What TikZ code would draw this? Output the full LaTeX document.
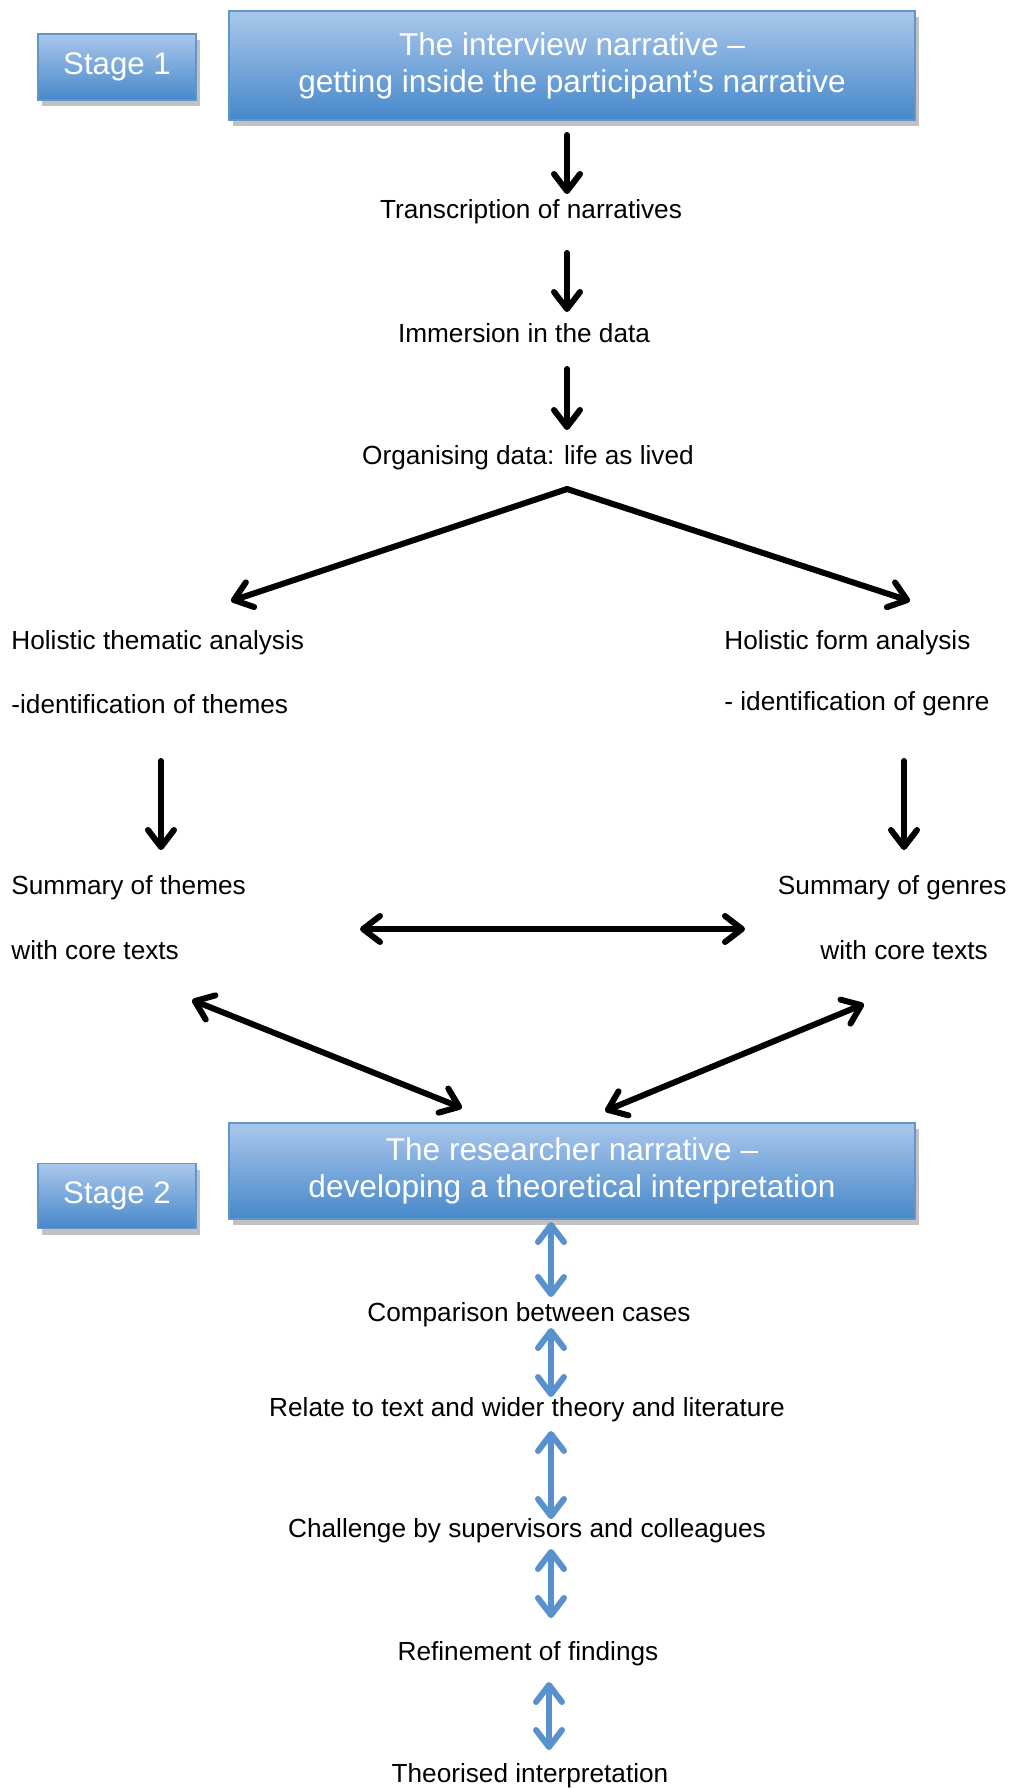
\documentclass[tikz,border=0pt]{standalone}
\usepackage{fontspec}
\setmainfont{Liberation Sans}
\usetikzlibrary{arrows.meta,shadows}

\definecolor{boxtop}{RGB}{170,199,235}
\definecolor{boxbot}{RGB}{70,136,202}
\definecolor{boxline}{RGB}{98,148,206}
\definecolor{linkblue}{RGB}{88,145,205}

\begin{document}
\begin{tikzpicture}[x=0.5pt,y=-0.5pt,
  stagebox/.style={draw=boxline, line width=0.7pt, top color=boxtop, bottom color=boxbot,
    text=white, inner sep=0pt, align=center,
    drop shadow={shadow xshift=2pt, shadow yshift=-3pt, opacity=0.35, fill=black!70}},
  titlefont/.style={font=\fontsize{15.8}{18.5}\selectfont},
  stagefont/.style={font=\fontsize{15.6}{18}\selectfont},
  step text/.style={font=\fontsize{13.1}{15}\selectfont, inner sep=0pt, anchor=mid},
  barb/.style={Straight Barb[length=8.5pt,width=13pt,round]},
  blackarrow/.style={line width=3pt, black, line cap=round, -{Straight Barb[length=8.5pt,width=13pt,round]}},
  blackboth/.style={line width=3pt, black, line cap=round,
    {Straight Barb[length=8.5pt,width=13pt,round]}-{Straight Barb[length=8.5pt,width=13pt,round]}},
  blueboth/.style={line width=3pt, linkblue, line cap=round,
    {Straight Barb[length=8.5pt,width=13pt,round]}-{Straight Barb[length=8.5pt,width=13pt,round]}}
]
\useasboundingbox (0,0) rectangle (1009,1789);

% ---------- Stage 1 ----------
\node[stagebox, stagefont, minimum width=79pt, minimum height=33pt] (stage1) at (117,67) {Stage 1};
\node[stagebox, titlefont, minimum width=343pt, minimum height=54.5pt] (title1) at (572,65.5)
  {The interview narrative –\\getting inside the participant’s narrative};

\node[step text] (trans) at (531,213) {Transcription of narratives};
\node[step text] (immer) at (524,337) {Immersion in the data};
\node[step text] (organ) at (528,459) {Organising data: life as lived};

\node[step text, anchor=west] (themA) at (11,643) {Holistic thematic analysis};
\node[step text, anchor=west] (themB) at (11,704) {-identification of themes};
\node[step text, anchor=west] (formA) at (724,643) {Holistic form analysis};
\node[step text, anchor=west] (formB) at (724,704) {- identification of genre};

\node[step text, anchor=west] (sumthA) at (11,888) {Summary of themes};
\node[step text, anchor=west] (sumthB) at (11,950) {with core texts};
\node[step text, anchor=east] (sumgeA) at (1007,888) {Summary of genres};
\node[step text, anchor=west] (sumgeB) at (820,950) {with core texts};

% arrow end points
\coordinate (a1s) at (567,135);  \coordinate (a1e) at (567,194);
\coordinate (a2s) at (567,253);  \coordinate (a2e) at (567,312);
\coordinate (a3s) at (567,369);  \coordinate (a3e) at (567,430);
\coordinate (fork) at (567,489);
\coordinate (forkL) at (231,601); \coordinate (forkR) at (910,601);
\coordinate (dLs) at (161,761);  \coordinate (dLe) at (161,850);
\coordinate (dRs) at (904,761);  \coordinate (dRe) at (904,850);
\coordinate (hL) at (360,929);   \coordinate (hR) at (745,929);
\coordinate (gL1) at (192,1000); \coordinate (gL2) at (462,1108);
\coordinate (gR1) at (864,1004); \coordinate (gR2) at (605,1111);

\draw[blackarrow] (a1s) -- (a1e);
\draw[blackarrow] (a2s) -- (a2e);
\draw[blackarrow] (a3s) -- (a3e);
\draw[blackarrow] (fork) -- (forkL);
\draw[blackarrow] (fork) -- (forkR);
\draw[blackarrow] (dLs) -- (dLe);
\draw[blackarrow] (dRs) -- (dRe);
\draw[blackboth] (hL) -- (hR);
\draw[blackboth] (gL1) -- (gL2);
\draw[blackboth] (gR1) -- (gR2);

% ---------- Stage 2 ----------
\node[stagebox, stagefont, minimum width=79pt, minimum height=32.5pt] (stage2) at (117,1196) {Stage 2};
\node[stagebox, titlefont, minimum width=343pt, minimum height=48pt] (title2) at (572,1171)
  {The researcher narrative –\\developing a theoretical interpretation};

\node[step text] (comp)  at (529,1316) {Comparison between cases};
\node[step text] (relate) at (527,1411) {Relate to text and wider theory and literature};
\node[step text] (chall) at (527,1532) {Challenge by supervisors and colleagues};
\node[step text] (refine) at (528,1655) {Refinement of findings};
\node[step text] (theor) at (530,1777) {Theorised interpretation};

\coordinate (b1s) at (551,1222); \coordinate (b1e) at (551,1297);
\coordinate (b2s) at (551,1328); \coordinate (b2e) at (551,1397);
\coordinate (b3s) at (551,1431); \coordinate (b3e) at (551,1519);
\coordinate (b4s) at (551,1549); \coordinate (b4e) at (551,1618);
\coordinate (b5s) at (549,1682); \coordinate (b5e) at (549,1750);

\draw[blueboth] (b1s) -- (b1e);
\draw[blueboth] (b2s) -- (b2e);
\draw[blueboth] (b3s) -- (b3e);
\draw[blueboth] (b4s) -- (b4e);
\draw[blueboth] (b5s) -- (b5e);
\end{tikzpicture}
\end{document}
